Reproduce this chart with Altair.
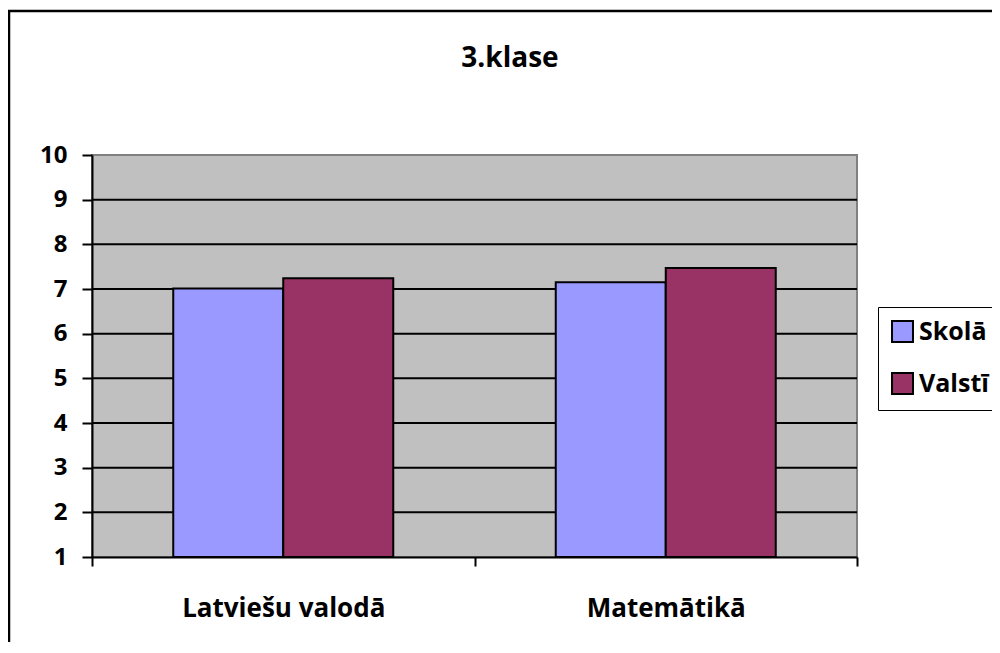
import altair as alt
import pandas as pd

categories = ["Latviešu valodā", "Matemātikā"]
series = ["Skolā", "Valstī"]
skola = [7.01, 7.15]
valsti = [7.24, 7.47]
colors = ["#9999FF", "#993366"]
y_ticks = [1, 2, 3, 4, 5, 6, 7, 8, 9, 10]
grid_values = [2, 3, 4, 5, 6, 7, 8, 9]
title_text = "3.klase"

rows = []
for i, c in enumerate(categories):
    rows.append({"cat": c, "ser": series[0], "val": skola[i]})
    rows.append({"cat": c, "ser": series[1], "val": valsti[i]})
df = pd.DataFrame(rows)

FONT = "Open Sans"
yscale = alt.Scale(domain=[1, 10], nice=False, zero=False)

frame = alt.Chart(pd.DataFrame({"a": [0]})).mark_rect(
    fill="transparent", stroke="black", strokeWidth=2.5, clip=False
).encode(x=alt.value(-83), x2=alt.value(1000), y=alt.value(-144), y2=alt.value(700))

plotbg = alt.Chart(pd.DataFrame({"a": [0]})).mark_rect(
    fill="#C0C0C0", stroke="#808080", strokeWidth=2
).encode(x=alt.value(0), x2=alt.value(765), y=alt.value(0), y2=alt.value(402))

grid = alt.Chart(pd.DataFrame({"g": grid_values})).mark_rule(
    color="black", strokeWidth=2
).encode(y=alt.Y("g:Q", scale=yscale), x=alt.value(0), x2=alt.value(765))

bars = alt.Chart(df).mark_bar(stroke="black", strokeWidth=2).encode(
    x=alt.X("cat:N", sort=categories, title=None,
            scale=alt.Scale(paddingInner=0, paddingOuter=0),
            axis=alt.Axis(labelAngle=0, labelFont=FONT, labelFontSize=26, labelFontWeight="bold",
                          labelColor="black", labelPadding=29, labelLimit=400, tickBand="extent",
                          tickColor="black", tickWidth=2, tickSize=9, domainColor="black",
                          domainWidth=2, grid=False, zindex=1)),
    xOffset=alt.XOffset("ser:N", sort=series, scale=alt.Scale(paddingInner=0, paddingOuter=0.7386)),
    y=alt.Y("val:Q", title=None, scale=yscale,
            axis=alt.Axis(values=y_ticks, labelFont=FONT, labelFontSize=24,
                          labelFontWeight="bold", labelColor="black", labelPadding=15,
                          tickColor="black", tickWidth=2, tickSize=10, domainColor="black",
                          domainWidth=2, grid=False, zindex=1)),
    y2=alt.datum(1),
    color=alt.Color("ser:N", sort=series, scale=alt.Scale(domain=series, range=colors),
                    legend=alt.Legend(title=None, orient="none", legendX=786, legendY=152,
                                      strokeColor="black", padding=12, fillColor="white",
                                      symbolType="square", symbolSize=440,
                                      symbolStrokeColor="black", symbolStrokeWidth=2,
                                      symbolOpacity=1,
                                      labelFont=FONT, labelFontSize=25, labelFontWeight="bold",
                                      labelColor="black", rowPadding=23, labelOffset=4)),
)

title = alt.Chart(pd.DataFrame({"t": [title_text]})).mark_text(
    font=FONT, fontSize=28, fontWeight="bold", color="black", align="center", baseline="middle"
).encode(x=alt.value(418), y=alt.value(-96), text="t:N")

chart = alt.layer(frame, plotbg, grid, bars, title).properties(
    width=765, height=402,
    autosize=alt.AutoSizeParams(type="none"),
    padding={"left": 84, "top": 147, "right": 135, "bottom": 85},
).configure_view(stroke=None).configure(background="white")

chart.save("out.html", embed_options={"renderer": "svg", "actions": False})
